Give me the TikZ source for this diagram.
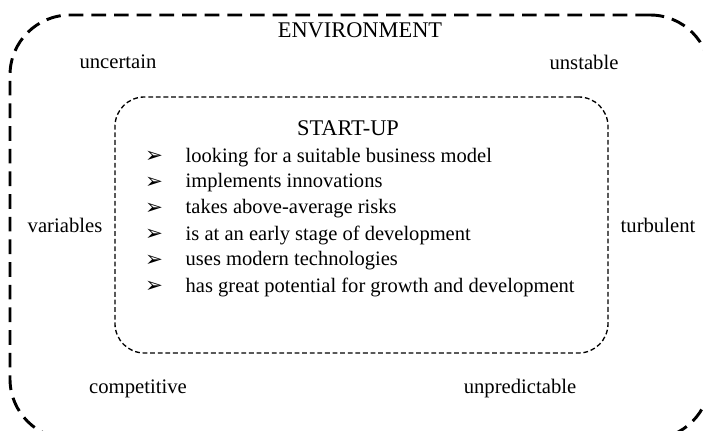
\documentclass[tikz,border=0pt]{standalone}
\usepackage{fontspec}
\setmainfont{Liberation Serif}
\newfontfamily\dejavu{DejaVu Sans}
\newcommand{\listarrow}{{\dejavu\fontsize{16}{16}\selectfont ➢}}

\begin{document}
\begin{tikzpicture}[x=0.75pt,y=-0.75pt,
  envbox/.style={draw, line width=2.2pt, dash pattern=on 11pt off 6pt,
    rounded corners=45pt, minimum width=525pt, minimum height=318pt},
  startbox/.style={draw, line width=1pt, dash pattern=on 3.6pt off 2.1pt,
    rounded corners=22pt, minimum width=369.75pt, minimum height=192pt},
  word/.style={font=\fontsize{15.5}{18}\selectfont},
  title/.style={font=\fontsize{16.8}{20}\selectfont},
  item/.style={font=\fontsize{15.4}{18}\selectfont, anchor=west}]
\useasboundingbox (0,0) rectangle (703,431);
\clip (0,0) rectangle (703,431);

\node[envbox] (env) at (360,227) {};
\node[startbox] (startup) at (361.5,225) {};

\node[title] (envtitle) at (360,30) {ENVIRONMENT};
\node[word] (uncertain) at (118,62) {uncertain};
\node[word] (unstable) at (584,62) {unstable};
\node[word] (variables) at (65,225) {variables};
\node[word] (turbulent) at (658,225) {turbulent};
\node[word] (competitive) at (138,389) {competitive};
\node[word] (unpredictable) at (520,389) {unpredictable};

\node[title] (sutitle) at (348,128) {START-UP};

\node[anchor=center] (b1) at (154,157) {\listarrow};
\node[item] (i1) at (181,157) {looking for a suitable business model};
\node[anchor=center] (b2) at (154,183) {\listarrow};
\node[item] (i2) at (181,183) {implements innovations};
\node[anchor=center] (b3) at (154,209) {\listarrow};
\node[item] (i3) at (181,209) {takes above-average risks};
\node[anchor=center] (b4) at (154,235) {\listarrow};
\node[item] (i4) at (181,235) {is at an early stage of development};
\node[anchor=center] (b5) at (154,261) {\listarrow};
\node[item] (i5) at (181,261) {uses modern technologies};
\node[anchor=center] (b6) at (154,287) {\listarrow};
\node[item] (i6) at (181,287) {has great potential for growth and development};
\end{tikzpicture}
\end{document}
